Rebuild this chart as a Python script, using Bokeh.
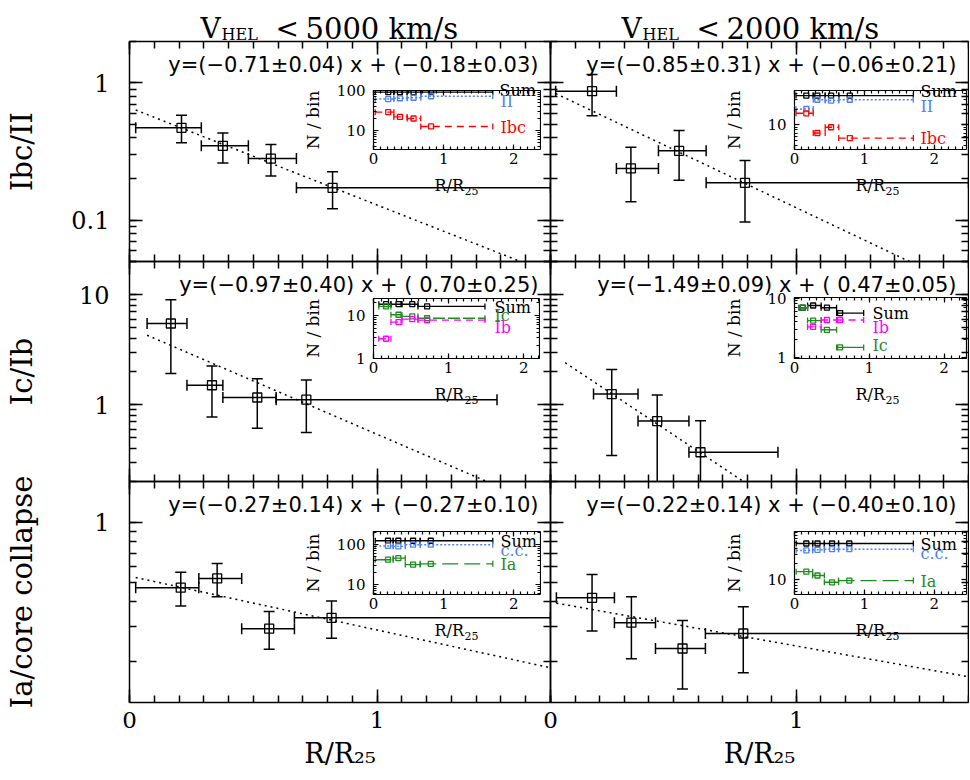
import math
import numpy as np
from bokeh.plotting import figure
from bokeh.models import (ColumnDataSource, FixedTicker, LinearAxis, LogAxis, Label,
                          Range1d, CustomJSTickFormatter, GridBox)
from bokeh.embed import file_html
from bokeh.resources import INLINE

# ======================= DATA =======================
col_velocity = ["5000", "2000"]
row_labels = ["Ibc/II", "Ic/Ib", "Ia/core collapse"]
main_x_max = 1.7

# ---- row 1 : Ibc/II, V < 5000 ----
r1c1_x   = [0.21, 0.377, 0.571, 0.82]
r1c1_xlo = [0.025, 0.29, 0.48, 0.674]
r1c1_xhi = [0.29, 0.48, 0.674, 1.70]
r1c1_y   = [0.47, 0.348, 0.281, 0.172]
r1c1_ylo = [0.366, 0.261, 0.21, 0.121]
r1c1_yhi = [0.58, 0.432, 0.356, 0.225]
r1c1_fit = [-0.71, -0.18]
r1c1_eq  = "y=(\u22120.71\u00b10.04) x + (\u22120.18\u00b10.03)"
r1c1_in_sum = [93, 93, 93, 93]
r1c1_in_II  = [62, 65, 67, 73]
r1c1_in_Ibc = [29, 22, 20, 12.6]

# ---- row 1 : Ibc/II, V < 2000 ----
r1c2_x   = [0.169, 0.327, 0.523, 0.791]
r1c2_xlo = [0.021, 0.268, 0.439, 0.633]
r1c2_xhi = [0.268, 0.439, 0.633, 1.70]
r1c2_y   = [0.87, 0.238, 0.32, 0.187]
r1c2_ylo = [0.575, 0.136, 0.195, 0.097]
r1c2_yhi = [1.15, 0.34, 0.45, 0.272]
r1c2_fit = [-0.85, -0.06]
r1c2_eq  = "y=(\u22120.85\u00b10.31) x + (\u22120.06\u00b10.21)"
r1c2_in_sum = [36, 36, 36, 36]
r1c2_in_II  = [20, 30, 29, 30]
r1c2_in_Ibc = [16.6, 7.0, 9.0, 5.6]

# ---- row 2 : Ic/Ib, V < 5000 ----
r2c1_x   = [0.167, 0.333, 0.516, 0.714]
r2c1_xlo = [0.071, 0.232, 0.377, 0.592]
r2c1_xhi = [0.232, 0.377, 0.592, 1.484]
r2c1_y   = [5.46, 1.50, 1.16, 1.11]
r2c1_ylo = [1.92, 0.77, 0.61, 0.557]
r2c1_yhi = [8.96, 2.24, 1.72, 1.67]
r2c1_fit = [-0.97, 0.70]
r2c1_eq  = "y=(\u22120.97\u00b10.40) x + ( 0.70\u00b10.25)"
r2c1_in_sum = [18.4, 18.4, 18.4, 16.3]
r2c1_in_Ic  = [16.3, 10.4, 9.5, 8.6]
r2c1_in_Ib  = [2.85, 7.0, 8.2, 7.8]

# ---- row 2 : Ic/Ib, V < 2000 ----
r2c2_x   = [0.249, 0.434, 0.61]
r2c2_xlo = [0.175, 0.356, 0.563]
r2c2_xhi = [0.356, 0.563, 0.925]
r2c2_y   = [1.246, 0.709, 0.369]
r2c2_ylo = [0.344, 0.15, 0.15]
r2c2_yhi = [2.09, 1.22, 0.714]
r2c2_fit = [-1.49, 0.47]
r2c2_eq  = "y=(\u22121.49\u00b10.09) x + ( 0.47\u00b10.05)"
r2c2_in_x   = [0.11, 0.249, 0.434, 0.61]
r2c2_in_xlo = [0.06, 0.175, 0.356, 0.563]
r2c2_in_xhi = [0.175, 0.356, 0.563, 0.925]
r2c2_in_sum = [6.9, 7.5, 6.9, 5.6]
r2c2_in_Ic  = [6.9, 4.2, 2.95, 1.5]
r2c2_in_Ib  = [float("nan"), 3.3, 4.3, 4.3]

# ---- row 3 : Ia/core collapse, V < 5000 ----
r3c1_x   = [0.207, 0.354, 0.564, 0.816]
r3c1_xlo = [0.025, 0.28, 0.453, 0.666]
r3c1_xhi = [0.28, 0.453, 0.666, 1.70]
r3c1_y   = [0.47, 0.523, 0.293, 0.332]
r3c1_ylo = [0.38, 0.423, 0.231, 0.262]
r3c1_yhi = [0.562, 0.621, 0.357, 0.403]
r3c1_fit = [-0.27, -0.27]
r3c1_eq  = "y=(\u22120.27\u00b10.14) x + (\u22120.27\u00b10.10)"
r3c1_in_sum = [126, 126, 126, 126]
r3c1_in_cc  = [93, 91, 100, 100]
r3c1_in_Ia  = [42, 46, 31.6, 33]

# ---- row 3 : Ia/core collapse, V < 2000 ----
r3c2_x   = [0.169, 0.329, 0.537, 0.784]
r3c2_xlo = [0.024, 0.26, 0.427, 0.63]
r3c2_xhi = [0.26, 0.427, 0.63, 1.70]
r3c2_y   = [0.418, 0.314, 0.233, 0.277]
r3c2_ylo = [0.285, 0.207, 0.146, 0.176]
r3c2_yhi = [0.548, 0.423, 0.322, 0.377]
r3c2_fit = [-0.22, -0.40]
r3c2_eq  = "y=(\u22120.22\u00b10.14) x + (\u22120.40\u00b10.10)"
r3c2_in_sum = [48.7, 48.7, 48.7, 48.7]
r3c2_in_cc  = [36, 37, 38, 38]
r3c2_in_Ia  = [14.3, 12.1, 9.0, 9.7]

# ======================= STYLE / LAYOUT =======================
SERIF = "DejaVu Serif"
SANS = "DejaVu Sans"
BLUE = "#4f80f0"
RED = "#ff0000"
GREEN = "#1f8c1f"
MAGENTA = "#ff00ff"

# every figure shares the same borders (the grid aligns them anyway)
BL, BR, BT, BB = 126, 3, 8, 76

COL_LEFT = [127, 548]
COL_W = [421, 418]
ROW_TOP = [41, 261, 481]
ROW_H = [220, 220, 221]
ROW_YR = [(0.05, 2.0), (0.2, 20.0), (0.125, 1.6)]
ROW_YLABEL_STANDOFF = [29, 37, 52]

# overlay (text only) frame, page coordinates
OV_LEFT, OV_TOP, OV_RIGHT, OV_BOTTOM = BL, BT, 966, 690


def log_ticks(lo, hi):
    major, minor = [], []
    for e in range(-3, 4):
        for m in range(1, 10):
            v = round(m * 10.0 ** e, 10)
            if lo * 0.9999 <= v <= hi * 1.0001:
                minor.append(v)
                if m == 1:
                    major.append(v)
    return FixedTicker(ticks=major, minor_ticks=minor)


def lin_ticks(hi, majors):
    minor = [round(0.1 * i, 2) for i in range(0, int(round(hi * 10)) + 1)]
    return FixedTicker(ticks=majors, minor_ticks=minor)


def style_axis(ax, ticker, show, size, standoff, maj, mnr, lw):
    ax.ticker = ticker
    if show:
        ax.formatter = CustomJSTickFormatter(code="return String(Math.round(tick*1000)/1000);")
        ax.major_label_text_font_size = size
        ax.major_label_standoff = standoff
    else:
        ax.formatter = CustomJSTickFormatter(code="return '';")
        ax.major_label_text_font_size = "0px"
        ax.major_label_standoff = 0
    ax.major_label_text_font = SERIF
    ax.major_label_text_color = "black"
    ax.major_tick_in = maj
    ax.major_tick_out = 0
    ax.minor_tick_in = mnr
    ax.minor_tick_out = 0
    ax.axis_line_color = "black"
    ax.axis_line_width = lw
    ax.major_tick_line_color = "black"
    ax.major_tick_line_width = lw
    ax.minor_tick_line_color = "black"
    ax.minor_tick_line_width = lw
    ax.axis_label = None


def base_fig(xr, yr, fw, fh, margin, axes=True):
    p = figure(x_range=Range1d(*xr), y_range=Range1d(*yr),
               y_axis_type="log" if axes else "linear",
               x_axis_location="below" if axes else None,
               y_axis_location="left" if axes else None,
               frame_width=fw, frame_height=fh,
               min_border_left=BL, min_border_right=BR, min_border_top=BT, min_border_bottom=BB,
               toolbar_location=None, tools="", output_backend="svg")
    p.margin = margin
    p.background_fill_color = None
    p.border_fill_color = None
    p.outline_line_color = None
    p.grid.visible = False
    if axes:
        p.add_layout(LinearAxis(), "above")
        p.add_layout(LogAxis(), "right")
    return p


def lab(p, x, y, text, font, size, color="black", align="left", baseline="alphabetic",
        angle=0.0):
    p.add_layout(Label(x=x, y=y, x_units="screen", y_units="screen", text=text, text_font=font,
                       text_font_size=size, text_color=color, text_align=align,
                       text_baseline=baseline, angle=angle))


# ---------------- text overlay (page coordinates) ----------------
overlay = base_fig((0, 1), (0, 1), OV_RIGHT - OV_LEFT, OV_BOTTOM - OV_TOP,
                   (OV_TOP - BT, 0, 0, OV_LEFT - BL), axes=False)


def olab(text, xp, yp, size, color="black", align="left", baseline="alphabetic",
         angle=0.0, font=SERIF):
    lab(overlay, xp - OV_LEFT, OV_BOTTOM - yp, text, font, size, color, align, baseline, angle)


def main_panel(r, c, x, xlo, xhi, y, ylo, yhi, fit, eq, fit_x0):
    fw, fh = COL_W[c], ROW_H[r]
    margin = (ROW_TOP[r] - BT, 0, 0, COL_LEFT[c] - BL)
    yr = ROW_YR[r]
    p = base_fig((0, main_x_max), yr, fw, fh, margin)
    style_axis(p.below[0], lin_ticks(main_x_max, [0, 1]), r == 2, "23px", 9, 13, 7, 1.5)
    style_axis(p.above[0], lin_ticks(main_x_max, [0, 1]), False, "0px", 0, 13, 7, 1.5)
    style_axis(p.left[0], log_ticks(*yr), c == 0, "24px", 20, 13, 7, 1.5)
    style_axis(p.right[0], log_ticks(*yr), False, "0px", 0, 13, 7, 1.5)
    if c == 0:
        ax = p.left[0]
        ax.axis_label = row_labels[r]
        ax.axis_label_text_font = SERIF
        ax.axis_label_text_font_size = "29px"
        ax.axis_label_text_font_style = "normal"
        ax.axis_label_text_color = "black"
        ax.axis_label_standoff = ROW_YLABEL_STANDOFF[r]
    if r == 2:
        ax = p.below[0]
        ax.axis_label = "R/R\u2082\u2085"
        ax.axis_label_text_font = SERIF
        ax.axis_label_text_font_size = "27px"
        ax.axis_label_text_font_style = "normal"
        ax.axis_label_text_color = "black"
        ax.axis_label_standoff = 7

    slope, icpt = fit
    fx = np.array([fit_x0, main_x_max])
    fy = 10 ** (icpt + slope * fx)
    p.line(fx, fy, line_color="black", line_width=1.5, line_dash="2 4")

    src = ColumnDataSource(dict(x=x, y=y, xlo=xlo, xhi=xhi, ylo=ylo, yhi=yhi))
    kw = dict(line_color="black", line_width=1.5)
    p.segment(x0="xlo", y0="y", x1="xhi", y1="y", source=src, **kw)
    p.segment(x0="x", y0="ylo", x1="x", y1="yhi", source=src, **kw)
    for cx, cy, ang in (("xlo", "y", math.pi / 2), ("xhi", "y", math.pi / 2),
                        ("x", "ylo", 0.0), ("x", "yhi", 0.0)):
        p.scatter(x=cx, y=cy, source=src, marker="dash", angle=ang, size=11, **kw)
    p.scatter(x="x", y="y", source=src, marker="square", size=9, fill_color=None,
              line_color="black", line_width=1.3)

    lab(p, fw - 12, fh - 23, eq, SANS, "21px", align="right", baseline="middle")
    if r == 0:
        fl = COL_LEFT[c]
        v = col_velocity[c]
        olab("V", fl + 71, 28, "28px")
        olab("HEL", fl + 92, 34, "16px")
        olab("<", fl + 146, 28, "28px")
        olab(v + " km/s", fl + 176, 28, "29px")
    return p


def inset(frame_left, frame_top, fw, fh, xmax, yr, bins, series, legend):
    margin = (frame_top - BT, 0, 0, frame_left - BL)
    q = base_fig((0, xmax), yr, fw, fh, margin)
    style_axis(q.below[0], lin_ticks(xmax, [0, 1, 2]), True, "15px", 3, 5, 3, 1.2)
    style_axis(q.above[0], lin_ticks(xmax, [0, 1, 2]), False, "0px", 0, 5, 3, 1.2)
    style_axis(q.left[0], log_ticks(*yr), True, "15px", 8, 5, 3, 1.2)
    style_axis(q.right[0], log_ticks(*yr), False, "0px", 0, 5, 3, 1.2)
    bx, blo, bhi = bins
    for vals, color, dash in series:
        src = ColumnDataSource(dict(x=np.array(bx, float), lo=np.array(blo, float),
                                    hi=np.array(bhi, float), y=np.array(vals, float)))
        q.segment(x0="lo", y0="y", x1="hi", y1="y", source=src, line_color=color,
                  line_width=1.4, line_dash=dash)
        for cx in ("lo", "hi"):
            q.scatter(x=cx, y="y", source=src, marker="dash", angle=math.pi / 2, size=6,
                      line_color=color, line_width=1.3)
        q.scatter(x="x", y="y", source=src, marker="square", size=5, fill_color=None,
                  line_color=color, line_width=1.3)
    # legend words, y-label and x-label (page positions, drawn on the overlay)
    for text, color, lx, ly in legend:
        olab(text, lx, ly, "16px", color=color, baseline="middle")
    olab("N / bin", frame_left - 61, frame_top + fh / 2, "17px", align="center",
         baseline="middle", angle=math.pi / 2)
    olab("R/R", frame_left + 61, frame_top + fh + 36, "16px")
    olab("25", frame_left + 91, frame_top + fh + 41, "11px")
    return q


mains = [
    main_panel(0, 0, r1c1_x, r1c1_xlo, r1c1_xhi, r1c1_y, r1c1_ylo, r1c1_yhi, r1c1_fit, r1c1_eq, r1c1_xlo[0]),
    main_panel(0, 1, r1c2_x, r1c2_xlo, r1c2_xhi, r1c2_y, r1c2_ylo, r1c2_yhi, r1c2_fit, r1c2_eq, r1c2_xlo[0]),
    main_panel(1, 0, r2c1_x, r2c1_xlo, r2c1_xhi, r2c1_y, r2c1_ylo, r2c1_yhi, r2c1_fit, r2c1_eq, r2c1_xlo[0]),
    main_panel(1, 1, r2c2_x, r2c2_xlo, r2c2_xhi, r2c2_y, r2c2_ylo, r2c2_yhi, r2c2_fit, r2c2_eq, r2c2_in_xlo[0]),
    main_panel(2, 0, r3c1_x, r3c1_xlo, r3c1_xhi, r3c1_y, r3c1_ylo, r3c1_yhi, r3c1_fit, r3c1_eq, r3c1_xlo[0]),
    main_panel(2, 1, r3c2_x, r3c2_xlo, r3c2_xhi, r3c2_y, r3c2_ylo, r3c2_yhi, r3c2_fit, r3c2_eq, r3c2_xlo[0]),
]

insets = [
    inset(371, 90, 167, 59, 2.38, (3.3, 102), (r1c1_x, r1c1_xlo, r1c1_xhi),
          [(r1c1_in_sum, "black", "solid"), (r1c1_in_II, BLUE, "2 2"), (r1c1_in_Ibc, RED, "7 5")],
          [("Sum", "black", 497, 90), ("II", BLUE, 498, 101), ("Ibc", RED, 498, 127)]),
    inset(792, 90, 172, 59, 2.46, (3.4, 45), (r1c2_x, r1c2_xlo, r1c2_xhi),
          [(r1c2_in_sum, "black", "solid"), (r1c2_in_II, BLUE, "2 2"), (r1c2_in_Ibc, RED, "7 5")],
          [("Sum", "black", 918, 91), ("II", BLUE, 918, 106), ("Ibc", RED, 918, 138)]),
    inset(371, 298, 166, 60, 2.21, (0.98, 25), (r2c1_x, r2c1_xlo, r2c1_xhi),
          [(r2c1_in_sum, "black", "solid"), (r2c1_in_Ic, GREEN, "12 3"), (r2c1_in_Ib, MAGENTA, "7 5")],
          [("Sum", "black", 492, 307), ("Ic", GREEN, 492, 315), ("Ib", MAGENTA, 492, 327)]),
    inset(792, 297, 172, 61, 2.3, (0.98, 10.2), (r2c2_in_x, r2c2_in_xlo, r2c2_in_xhi),
          [(r2c2_in_sum, "black", "solid"), (r2c2_in_Ic, GREEN, "solid"), (r2c2_in_Ib, MAGENTA, "7 5")],
          [("Sum", "black", 870, 313), ("Ib", MAGENTA, 870, 327), ("Ic", GREEN, 870, 345)]),
    inset(371, 531, 167, 63, 2.38, (5.6, 215), (r3c1_x, r3c1_xlo, r3c1_xhi),
          [(r3c1_in_sum, "black", "solid"), (r3c1_in_cc, BLUE, "2 2"), (r3c1_in_Ia, GREEN, "16 6")],
          [("Sum", "black", 498, 541), ("c.c.", BLUE, 498, 550), ("Ia", GREEN, 498, 564)]),
    inset(792, 531, 172, 63, 2.46, (5.3, 82), (r3c2_x, r3c2_xlo, r3c2_xhi),
          [(r3c2_in_sum, "black", "solid"), (r3c2_in_cc, BLUE, "2 2"), (r3c2_in_Ia, GREEN, "16 6")],
          [("Sum", "black", 918, 544), ("c.c.", BLUE, 918, 553), ("Ia", GREEN, 918, 581)]),
]

layout = GridBox(children=[(f, 0, 0) for f in [overlay] + mains + insets], spacing=0)

open("out.html", "w").write(file_html(layout, INLINE))
